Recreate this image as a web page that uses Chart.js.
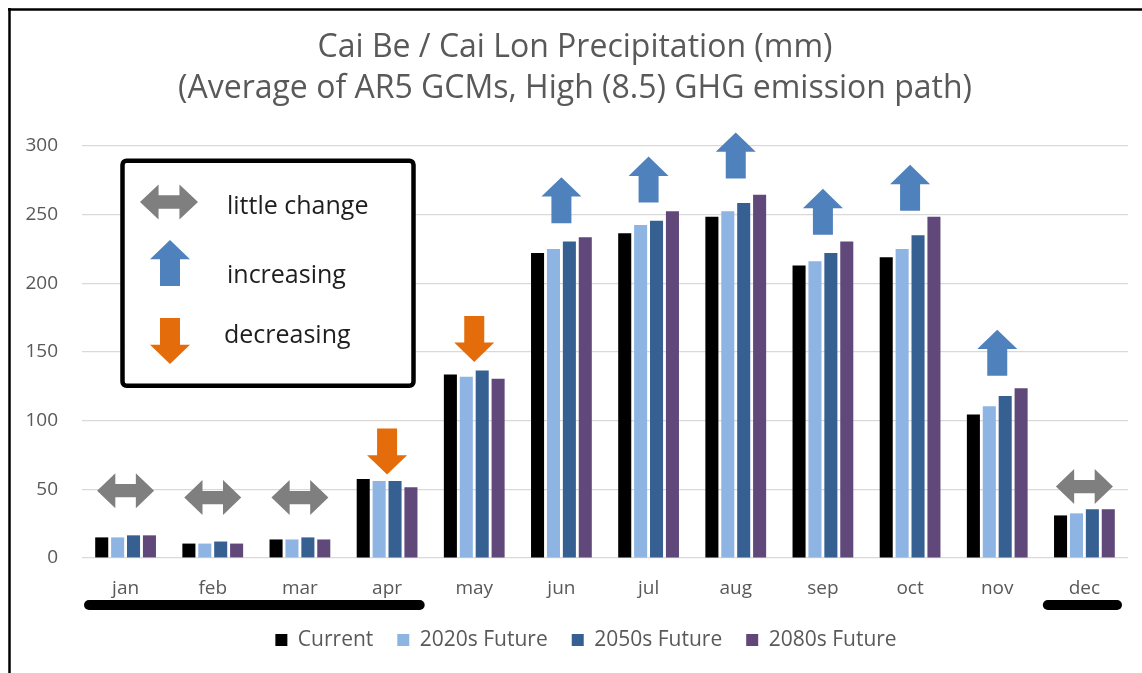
<!DOCTYPE html>
<html><head><meta charset="utf-8">
<script src="https://cdn.jsdelivr.net/npm/chart.js@4.4.1/dist/chart.umd.min.js"></script>
<style>html,body{margin:0;padding:0;background:#fff;overflow:hidden}#wrap{width:1142px;height:673px;position:relative}</style>
</head><body><div id="wrap"><canvas id="c" width="1142" height="673"></canvas></div>
<script>
const titleLines = ['Cai Be / Cai Lon Precipitation (mm)', '(Average of AR5 GCMs, High (8.5) GHG emission path)'];
const months = ['jan','feb','mar','apr','may','jun','jul','aug','sep','oct','nov','dec'];
const seriesNames = ['Current','2020s Future','2050s Future','2080s Future'];
const current = [15, 10.5, 13.5, 57.5, 133.5, 222, 236.5, 248.5, 213, 219, 104.5, 31];
const future2020 = [15, 10.5, 13.5, 56, 132, 225, 242.5, 252.5, 216, 225, 110.5, 32.5];
const future2050 = [16.5, 12, 15, 56, 136.5, 230.5, 245.5, 258.5, 222, 235, 118, 35.5];
const future2080 = [16.5, 10.5, 13.5, 51.5, 130.5, 233.5, 252.5, 264.5, 230.5, 248.5, 123.5, 35.5];
const yTicks = [0, 50, 100, 150, 200, 250, 300];
// trend annotation per month: kind and the value at the arrow's centre
const arrowKinds = ['both','both','both','down','down','up','up','up','up','up','up','both'];
const arrowAt = [49, 44, 44, 77.5, 159.5, 260.5, 275.5, 293, 252, 269.5, 149.5, 52];
const keyItems = [['both','little change'], ['up','increasing'], ['down','decreasing']];
// underlined month ranges (dry season), as category index ranges
const underlined = [[0, 3], [11, 11]];

const FONT = "'Open Sans', sans-serif";
const TXT = '#595959';
const seriesColors = ['#000000', '#8DB4E2', '#366092', '#60497A'];
const arrowColors = {both: '#7F7F7F', up: '#4F81BD', down: '#E46C0A'};

function drawArrow(ctx, kind, cx, cy, w, h) {
  ctx.beginPath();
  if (kind === 'up' || kind === 'down') {
    const s = kind === 'up' ? 1 : -1;
    const hh = h * 0.42, sw = w * 0.5;
    const tipY = cy - s * h / 2, baseY = cy + s * h / 2, headY = tipY + s * hh;
    ctx.moveTo(cx, tipY);
    ctx.lineTo(cx + w / 2, headY);
    ctx.lineTo(cx + sw / 2, headY);
    ctx.lineTo(cx + sw / 2, baseY);
    ctx.lineTo(cx - sw / 2, baseY);
    ctx.lineTo(cx - sw / 2, headY);
    ctx.lineTo(cx - w / 2, headY);
  } else {
    const hl = w * 0.32, sh = h * 0.38;
    ctx.moveTo(cx - w / 2, cy);
    ctx.lineTo(cx - w / 2 + hl, cy - h / 2);
    ctx.lineTo(cx - w / 2 + hl, cy - sh / 2);
    ctx.lineTo(cx + w / 2 - hl, cy - sh / 2);
    ctx.lineTo(cx + w / 2 - hl, cy - h / 2);
    ctx.lineTo(cx + w / 2, cy);
    ctx.lineTo(cx + w / 2 - hl, cy + h / 2);
    ctx.lineTo(cx + w / 2 - hl, cy + sh / 2);
    ctx.lineTo(cx - w / 2 + hl, cy + sh / 2);
    ctx.lineTo(cx - w / 2 + hl, cy + h / 2);
  }
  ctx.closePath();
  ctx.fillStyle = arrowColors[kind];
  ctx.fill();
}

const overlay = {
  id: 'overlay',
  afterLayout(chart) {
    // the series legend sits a little right of the page centre
    if (chart.legend) { chart.legend.left += 11; chart.legend.right += 11; }
  },
  afterDraw(chart) {
    const {ctx, chartArea: ca, scales: {x, y}} = chart;
    ctx.save();
    // frame
    ctx.strokeStyle = '#000'; ctx.lineWidth = 2.5;
    ctx.beginPath(); ctx.moveTo(8, 9.5); ctx.lineTo(1142, 9.5); ctx.stroke();
    ctx.beginPath(); ctx.moveTo(9.5, 8); ctx.lineTo(9.5, 673); ctx.stroke();
    // trend arrows
    months.forEach((m, i) => {
      const cx = x.getPixelForValue(i);
      const cy = y.getPixelForValue(arrowAt[i]);
      const k = arrowKinds[i];
      if (k === 'both') drawArrow(ctx, k, cx, cy, 57, 35);
      else drawArrow(ctx, k, cx, cy, 40, 46);
    });
    // underlines
    const half = (x.getPixelForValue(1) - x.getPixelForValue(0)) / 2;
    ctx.lineCap = 'round'; ctx.lineWidth = 10; ctx.strokeStyle = '#000';
    underlined.forEach(([a, b]) => {
      const x0 = x.getPixelForValue(a) - half + 2 + 5;
      const x1 = x.getPixelForValue(b) + half - 6 - 5;
      ctx.beginPath(); ctx.moveTo(x0, 605); ctx.lineTo(x1, 605); ctx.stroke();
    });
    // key box
    const bx = ca.left + 40.5, by = ca.top + 14.8, bw = 291, bh = 225;
    ctx.lineCap = 'butt';
    ctx.beginPath();
    if (ctx.roundRect) ctx.roundRect(bx, by, bw, bh, 4); else ctx.rect(bx, by, bw, bh);
    ctx.fillStyle = '#fff'; ctx.fill();
    ctx.lineWidth = 4.5; ctx.strokeStyle = '#000'; ctx.stroke();
    const rows = [{cy: 202, base: 214}, {cy: 263, base: 283}, {cy: 341, base: 343}];
    ctx.font = "25px " + FONT;
    ctx.textAlign = 'left'; ctx.textBaseline = 'alphabetic';
    keyItems.forEach(([k, label], i) => {
      const r = rows[i];
      if (k === 'both') drawArrow(ctx, k, bx + 46.5, r.cy, 58, 35);
      else drawArrow(ctx, k, bx + 47.5, r.cy, 40, 46);
      ctx.fillStyle = '#1e1e1e';
      ctx.fillText(label, bx + (i === 2 ? 101.5 : 104.5), r.base);
    });
    ctx.restore();
  }
};

const datasets = [current, future2020, future2050, future2080].map((d, i) => ({
  label: seriesNames[i],
  data: d,
  backgroundColor: seriesColors[i],
  borderWidth: 0,
  categoryPercentage: 0.73,
  barPercentage: 0.82
}));

new Chart(document.getElementById('c'), {
  type: 'bar',
  data: {labels: months, datasets},
  plugins: [overlay],
  options: {
    responsive: false,
    animation: false,
    devicePixelRatio: 1,
    layout: {padding: {top: 27, left: 22, right: 14, bottom: 12.5}},
    plugins: {
      tooltip: {enabled: false},
      title: {
        display: true, text: titleLines, color: TXT,
        font: {family: FONT, size: 32, weight: 'normal', lineHeight: 1.28},
        padding: {top: 0, bottom: 37}
      },
      legend: {
        position: 'bottom',
        labels: {
          color: TXT, boxWidth: 12, boxHeight: 12, padding: 24,
          font: {family: FONT, size: 21}
        }
      }
    },
    scales: {
      x: {
        grid: {display: false},
        border: {display: false},
        ticks: {color: TXT, font: {family: FONT, size: 19}, padding: 11},
        afterFit: (s) => { s.height = 47.5; }
      },
      y: {
        min: 0, max: 300,
        afterBuildTicks: (s) => { s.ticks = yTicks.map(v => ({value: v})); },
        grid: {color: '#D9D9D9', lineWidth: 1.2, drawTicks: false},
        border: {display: false},
        ticks: {color: TXT, font: {family: FONT, size: 19}, padding: 24},
        afterFit: (s) => { s.width = 60; }
      }
    }
  }
});
</script></body></html>
